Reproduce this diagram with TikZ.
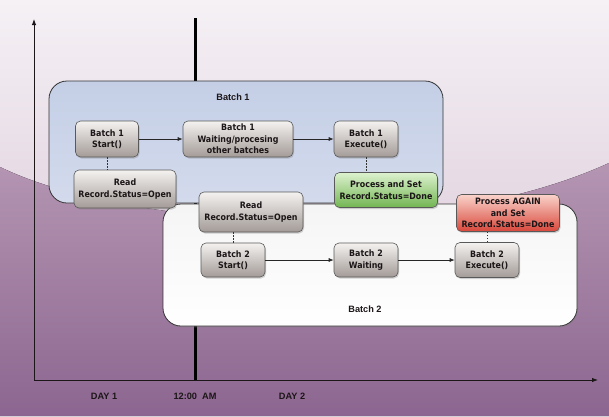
\documentclass[tikz,border=0pt]{standalone}
\usepackage{fontspec}
\setmainfont{Liberation Sans}
\newfontfamily\nodefont{DejaVu Sans Condensed}
\usetikzlibrary{shadows,arrows.meta}
\definecolor{bgtop}{HTML}{F5F1F5}
\definecolor{bgmid}{HTML}{DDCCDB}
\definecolor{lowtop}{HTML}{B495B2}
\definecolor{lowbot}{HTML}{8C6690}
\definecolor{grayA}{HTML}{F4F2F0}
\definecolor{grayB}{HTML}{A39B97}
\definecolor{greenA}{HTML}{DDF2CF}
\definecolor{greenB}{HTML}{72B552}
\definecolor{redA}{HTML}{F9D3CB}
\definecolor{redB}{HTML}{D9473A}
\definecolor{blueA}{HTML}{C4CFE6}
\definecolor{blueB}{HTML}{D3DAEC}
\definecolor{ink}{HTML}{1C1618}
\begin{document}
\begin{tikzpicture}[x=1pt,y=-1pt,
  stepbox/.style={rounded corners=5pt, draw=black!65, line width=0.6pt,
    top color=grayA, bottom color=grayB, text=ink,
    drop shadow={opacity=0.35,shadow xshift=1pt,shadow yshift=-1.5pt},
    font=\nodefont\bfseries\fontsize{8.8}{11.5}\selectfont, align=center, inner sep=1pt},
  greenbox/.style={stepbox, top color=greenA, bottom color=greenB},
  redbox/.style={stepbox, top color=redA, bottom color=redB},
  batchbox/.style={rounded corners=18pt, draw=black!80, line width=0.8pt, inner sep=0pt},
  title/.style={font=\bfseries\fontsize{9.2}{11}\selectfont, text=ink},
  flow/.style={-{Latex[length=5pt,width=4pt]}, line width=0.7pt, draw=black!85},
  link/.style={dash pattern=on 1.6pt off 1.4pt, line width=0.7pt, draw=black!80},
  axis/.style={line width=0.9pt, draw=ink}
]
\useasboundingbox (0,0) rectangle (609,416);
% background
\fill[top color=bgtop, bottom color=bgmid] (0,0) rectangle (609,300);
\fill[top color=lowtop, bottom color=lowbot]
  (0,167) .. controls (130,230) and (430,245) .. (609,163) -- (609,416) -- (0,416) -- cycle;
% time axes
\coordinate (orig) at (34,380);
\coordinate (ytop) at (34,19);
\coordinate (xend) at (598,380);
\coordinate (mtop) at (195,18);
\coordinate (mbot) at (195,380);
\draw[line width=3pt, draw=black] (mtop) -- (mbot);
\draw[axis, -{Latex[length=6pt,width=4.5pt]}] (orig) -- (ytop);
\draw[axis, -{Latex[length=6pt,width=4.5pt]}] (orig) -- (xend);
\node[title] (d1) at (104,396) {DAY 1};
\node[title] (mid) at (195,396) {12:00\ \ AM};
\node[title] (d2) at (292,396) {DAY 2};
% batch boxes
\node[batchbox, top color=blueA, bottom color=blueB, minimum width=394pt, minimum height=122pt] (b1) at (246,142) {};
\node[batchbox, top color=white!96!black, bottom color=white, minimum width=414pt, minimum height=122pt,
  drop shadow={opacity=0.25,shadow xshift=1pt,shadow yshift=-1.5pt}] (b2) at (370,265) {};
\node[title] (t1) at (233,97) {Batch 1};
\node[title] (t2) at (365,309) {Batch 2};
% steps
\node[stepbox, minimum width=63pt, minimum height=36pt] (s1) at (107,139) {Batch 1\\Start()};
\node[stepbox, minimum width=110pt, minimum height=36pt] (w1) at (238,139) {Batch 1\\Waiting/procesing\\other batches};
\node[stepbox, minimum width=64pt, minimum height=36pt] (e1) at (366,139) {Batch 1\\Execute()};
\node[stepbox, minimum width=102pt, minimum height=38pt] (r1) at (125,189) {Read\\Record.Status=Open};
\node[greenbox, minimum width=103pt, minimum height=35pt] (g1) at (386,190) {Process and Set\\Record.Status=Done};
\node[stepbox, minimum width=104pt, minimum height=40pt] (r2) at (251,212) {Read\\Record.Status=Open};
\node[stepbox, minimum width=64pt, minimum height=34pt] (s2) at (233,260) {Batch 2\\Start()};
\node[stepbox, minimum width=64pt, minimum height=34pt] (w2) at (366,260) {Batch 2\\Waiting};
\node[stepbox, minimum width=64pt, minimum height=35pt] (e2) at (487,260) {Batch 2\\Execute()};
\node[redbox, minimum width=103pt, minimum height=37pt] (rd) at (508,213) {Process AGAIN\\and Set\\Record.Status=Done};
% connectors
\draw[flow] (s1) -- (w1);
\draw[flow] (w1) -- (e1);
\draw[flow] (s2) -- (w2);
\draw[flow] (w2) -- (e2);
\draw[link] (s1.south) -- (s1.south |- r1.north);
\draw[link] (e1.south) -- (e1.south |- g1.north);
\draw[link] (s2.north) -- (s2.north |- r2.south);
\draw[link] (e2.north) -- (e2.north |- rd.south);
\end{tikzpicture}
\end{document}
